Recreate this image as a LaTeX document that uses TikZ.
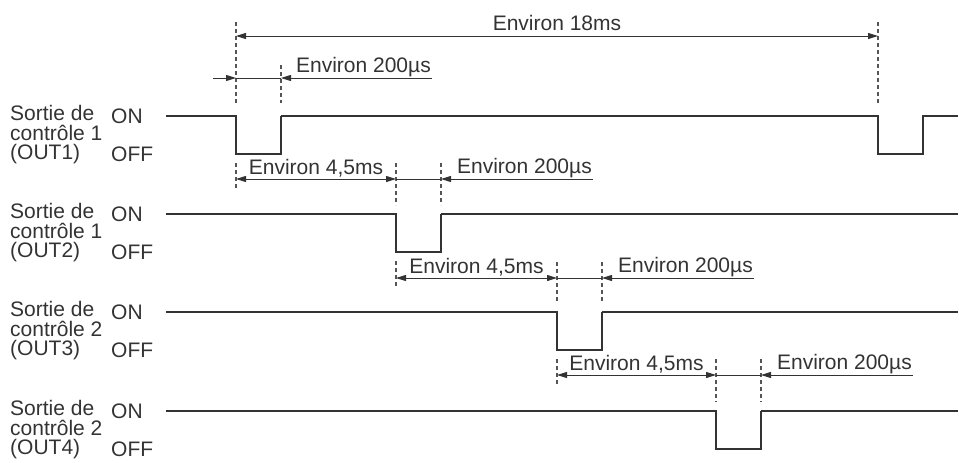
\documentclass[tikz,border=0pt]{standalone}
\usepackage{fontspec}
\setmainfont{Liberation Sans}
\usepackage{tikz}
\usetikzlibrary{arrows.meta,positioning}
\definecolor{sigcol}{HTML}{333333}
\definecolor{guidecol}{HTML}{555555}
\tikzstyle{signal} = [draw=sigcol, line width=1.4pt, line join=miter]
\tikzstyle{guide} = [draw=guidecol, line width=1.1pt, dash pattern=on 4pt off 3pt]
\tikzstyle{dim} = [draw=sigcol, line width=1pt]
\tikzstyle{dimarrow} = [dim, -{Triangle[length=10pt,width=6pt]}]
\tikzstyle{dimboth} = [dim, {Triangle[length=10pt,width=6pt]}-{Triangle[length=10pt,width=6pt]}]
\tikzstyle{lbl} = [font=\fontsize{21}{19.5}\selectfont, text=sigcol, inner sep=1pt]

\begin{document}
\begin{tikzpicture}[x=1pt, y=-1pt]
    \useasboundingbox (0,0) rectangle (959,463);

    % signal rows
    \foreach \i/\num/\out/\yon/\xf in {1/1/OUT1/116/236, 2/1/OUT2/214/396,
                                       3/2/OUT3/312/557, 4/2/OUT4/411/716} {
      \pgfmathsetmacro\yoff{\yon+38}
      \pgfmathsetmacro\xr{\xf+45}
      \coordinate (start\i) at (166,\yon);
      \coordinate (fall\i) at (\xf,\yon);
      \coordinate (low\i) at (\xf,\yoff);
      \coordinate (up\i) at (\xr,\yoff);
      \coordinate (rise\i) at (\xr,\yon);
      \coordinate (end\i) at (958,\yon);
      \node [lbl, align=left, anchor=west] (name\i) at (9,{\yon+19}) {Sortie de\\contrôle \num\\(\out)};
      \node [lbl, anchor=west] (on\i) at (110,\yon) {ON};
      \node [lbl, anchor=west] (off\i) at (110,\yoff) {OFF};
      \draw [signal] (start\i) -- (fall\i) -- (low\i) -- (up\i) -- (rise\i);
    }

    % second pulse of OUT1
    \coordinate (fall1b) at (878,116);
    \coordinate (low1b) at (878,154);
    \coordinate (up1b) at (923,154);
    \coordinate (rise1b) at (923,116);
    \draw [signal] (rise1) -- (fall1b) -- (low1b) -- (up1b) -- (rise1b) -- (end1);
    \foreach \i in {2,3,4}
      \draw [signal] (rise\i) -- (end\i);

    % period 18ms
    \coordinate (p18a) at (236,36);
    \coordinate (p18b) at (878,36);
    \draw [guide] ([yshift=14pt]p18a) -- ([yshift=13pt]fall1);
    \draw [guide] ([yshift=14pt]p18b) -- ([yshift=13pt]fall1b);
    \draw [dimboth] (p18a) -- node[lbl, above=4pt] (t18) {Environ 18ms} (p18b);

    % first pulse width
    \coordinate (w200l) at (213,78);
    \coordinate (w200f) at (236,78);
    \coordinate (w200r) at (281,78);
    \coordinate (w200e) at (432,78);
    \draw [guide] ([yshift=13pt]w200r) -- ([yshift=13pt]rise1);
    \draw [dimarrow] (w200l) -- (w200f);
    \draw [dim] (w200f) -- (w200r);
    \draw [dimarrow] (w200e) -- (w200r);
    \node [lbl, anchor=south east] (t200) at (w200e) {Environ 200µs};

    % delays between outputs
    \foreach \i/\j/\yd/\xa/\xb in {1/2/179/236/396, 2/3/278/396/557, 3/4/375/557/716} {
      \coordinate (da\i) at (\xa,\yd);
      \coordinate (db\i) at (\xb,\yd);
      \coordinate (dc\i) at (\xb+45,\yd);
      \coordinate (dd\i) at (\xb+197,\yd);
      \draw [guide] ([yshift=-9pt]low\i) -- ([yshift=-9pt]da\i);
      \draw [guide] ([yshift=16pt]db\i) -- ([yshift=9pt]fall\j);
      \draw [guide] ([yshift=16pt]dc\i) -- ([yshift=9pt]rise\j);
      \draw [dimboth] (da\i) -- node[lbl, above] (t45\i) {Environ 4,5ms} (db\i);
      \draw [dim] (db\i) -- (dc\i);
      \draw [dimarrow] (dd\i) -- (dc\i);
      \node [lbl, anchor=south east] (tw\i) at (dd\i) {Environ 200µs};
    }
  \end{tikzpicture}
\end{document}
